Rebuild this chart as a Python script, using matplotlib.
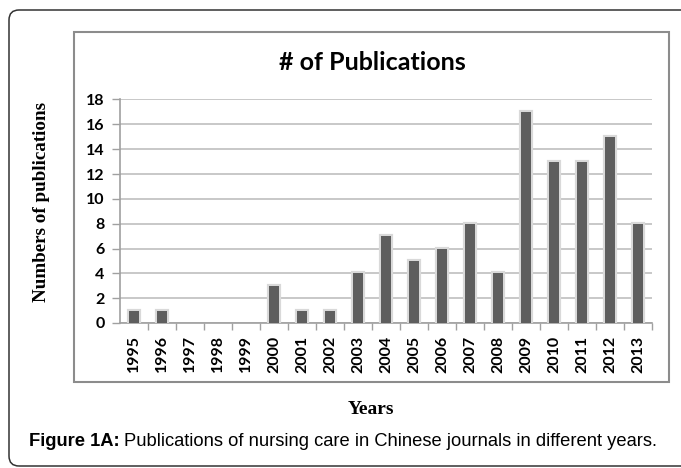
import matplotlib
matplotlib.use("Agg")
import matplotlib.pyplot as plt
import matplotlib.patheffects as pe
from matplotlib.patches import FancyBboxPatch, Rectangle

# Publications per year
years = ["1995", "1996", "1997", "1998", "1999", "2000", "2001", "2002", "2003", "2004",
         "2005", "2006", "2007", "2008", "2009", "2010", "2011", "2012", "2013"]
counts = [1, 1, 0, 0, 0, 3, 1, 1, 4, 7, 5, 6, 8, 4, 17, 13, 13, 15, 8]
y_ticks = [0, 2, 4, 6, 8, 10, 12, 14, 16, 18]

W, H = 681, 468
fig = plt.figure(figsize=(W / 100, H / 100), dpi=100)


def px(x, y):
    # pixel position (from top-left) -> inches for dpi_scale_trans
    return x / 100, (H - y) / 100


# outer rounded frame
x0, y0 = px(9, 466)
fig.add_artist(FancyBboxPatch((x0, y0), 7.2, (466 - 10) / 100,
                              boxstyle="round,pad=0,rounding_size=0.1",
                              transform=fig.dpi_scale_trans, fill=False,
                              edgecolor="#333333", linewidth=1.1))
# inner chart frame
x1, y1 = px(74, 382)
fig.add_artist(Rectangle((x1, y1), (669 - 74) / 100, (382 - 32) / 100,
                         transform=fig.dpi_scale_trans, fill=False,
                         edgecolor="#8c8c8c", linewidth=1.5))

ax = fig.add_axes([120 / W, 1 - 323 / H, (652 - 120) / W, (323 - 99.5) / H])
xpos = list(range(len(years)))
bars = ax.bar(xpos, counts, width=0.36, color="#5e5e5e", zorder=3)
for b, c in zip(bars, counts):
    if c > 0:
        b.set_path_effects([pe.Stroke(linewidth=3, foreground="#d9d9d9"), pe.Normal()])

ax.set_xlim(-0.5, len(years) - 0.5)
ax.set_ylim(0, 18)
ax.set_yticks(y_ticks)
ax.set_yticklabels([str(v) for v in y_ticks], fontfamily="Lato", fontweight="bold", fontsize=11.5)
ax.yaxis.grid(True, color="#c4c4c4", linewidth=1.3, zorder=0)
ax.set_axisbelow(True)

# category labels at centres, tick marks between categories
ax.set_xticks(xpos)
ax.set_xticklabels(years, rotation=90, fontfamily="Lato", fontweight="bold", fontsize=11.5)
ax.tick_params(axis="x", length=0, pad=9)
ax.set_xticks([i + 0.5 for i in xpos], minor=True)
ax.tick_params(axis="x", which="minor", length=5, color="#a0a0a0", width=1)
ax.tick_params(axis="y", length=6, color="#a0a0a0", width=1, pad=5)

for s in ["top", "right"]:
    ax.spines[s].set_visible(False)
for s in ["left", "bottom"]:
    ax.spines[s].set_color("#a0a0a0")
    ax.spines[s].set_linewidth(1.2)

fig.text(372 / W, 1 - 62 / H, "# of Publications", ha="center", va="center",
         fontfamily="Lato", fontweight="bold", fontsize=18)
fig.text(42 / W, 1 - 202 / H, "Numbers of publications", rotation=90, ha="center", va="center",
         fontfamily="Liberation Serif", fontweight="bold", fontsize=13.7)
fig.text(371 / W, 1 - 409 / H, "Years", ha="center", va="center",
         fontfamily="Liberation Serif", fontweight="bold", fontsize=14)

# caption: bold label followed by regular text
cap = fig.text(29 / W, 1 - 442 / H, "Figure 1A:", ha="left", va="center",
               fontfamily="Liberation Sans", fontweight="bold", fontsize=13.2)
fig.canvas.draw()
bb = cap.get_window_extent()
fig.text((bb.x1 + 4) / W, 1 - 442 / H, "Publications of nursing care in Chinese journals in different years.",
         ha="left", va="center", fontfamily="Liberation Sans", fontsize=13.2)

fig.savefig("out.png", dpi=100)
